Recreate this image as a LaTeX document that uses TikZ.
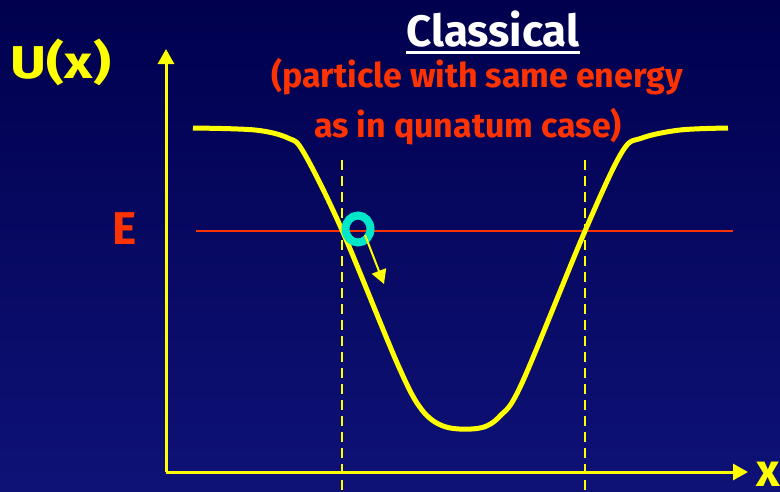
\documentclass[tikz,border=0pt]{standalone}
\usepackage{fontspec}
\setmainfont{Fira Sans}
\usetikzlibrary{arrows.meta,positioning,shapes.geometric}
\definecolor{navytop}{RGB}{0,0,78}
\definecolor{navybot}{RGB}{14,18,118}
\definecolor{potyellow}{RGB}{255,255,0}
\definecolor{energyred}{RGB}{255,51,0}
\definecolor{ballcyan}{RGB}{0,230,200}
\begin{document}
\begin{tikzpicture}[x=1pt,y=-1pt,
        axis/.style={-{Triangle[length=15pt,width=16pt]},potyellow,line width=3pt},
        lbl/.style={font=\fontsize{46}{46}\selectfont\bfseries,inner sep=0pt},
        note/.style={font=\fontsize{34}{34}\selectfont\bfseries,text=energyred,inner sep=0pt},
        turn/.style={potyellow,dashed,dash pattern=on 10pt off 6pt,line width=2pt}]
    \useasboundingbox (0,0) rectangle (780,491);
    \shade[top color=navytop,bottom color=navybot] (0,0) rectangle (780,491);
    % axes
    \coordinate (O)    at (166,472);
    \coordinate (ytip) at (166,49);
    \coordinate (xtip) at (748,472);
    \draw[axis] (O) -- (ytip);
    \draw[axis] (O) -- (xtip);
    \node[lbl,text=potyellow] (ulab) at (61,62) {\scalebox{1.2}[1]{U(x)}};
    \node[lbl,text=potyellow,anchor=west] (xlab) at (756,474) {x};
    % energy level
    \coordinate (eleft)  at (196,231);
    \coordinate (eright) at (733,231);
    \draw[energyred,line width=2pt] (eleft) -- (eright);
    \node[lbl,text=energyred] (elab) at (125,229) {E};
    % turning points
    \coordinate (tl) at (342,160);
    \coordinate (tlb) at (342,491);
    \coordinate (tr) at (585,160);
    \coordinate (trb) at (585,491);
    \draw[turn] (tl) -- (tlb);
    \draw[turn] (tr) -- (trb);
    % potential well
    \draw[potyellow,line width=5pt,line join=round] plot[smooth,tension=0.55] coordinates {
        (193,128) (255,130) (288,138) (304,153) (342,230) (398,365)
        (422,410) (446,427) (480,428) (500,416) (522,383) (585,231)
        (622,152) (642,138) (680,130) (728,128)};
    % titles
    \node[font=\fontsize{44}{44}\selectfont\bfseries,text=white,inner sep=0pt] (title) at (493,29) {Classical};
    \draw[white,line width=3pt] ([yshift=-6pt]title.base west) -- ([yshift=-6pt]title.base east);
    \node[note] (note1) at (477,77) {(particle with same energy};
    \node[note] (note2) at (468,127) {as in qunatum case)};
    % particle
    \node[draw=ballcyan,line width=8pt,ellipse,minimum width=25pt,minimum height=27pt,inner sep=0pt] (ball) at (358,229) {};
    \coordinate (vstart) at (365,235);
    \coordinate (vtip) at (384,284);
    \draw[potyellow,line width=2pt,-{Triangle[length=14pt,width=15pt]}] (vstart) -- (vtip);
\end{tikzpicture}
\end{document}
